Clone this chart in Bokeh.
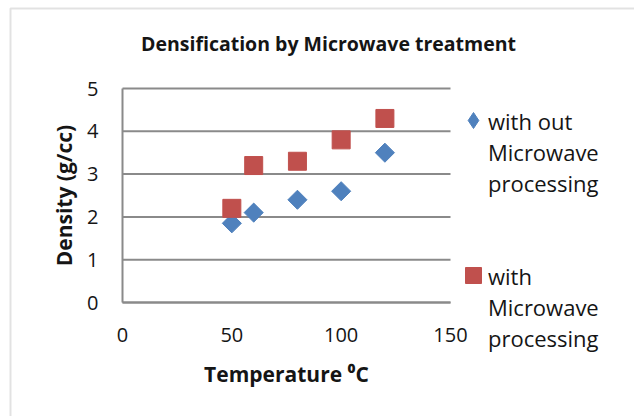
from math import pi, nan

from bokeh.plotting import figure
from bokeh.models import (Range1d, FixedTicker, Legend, LegendItem, Label,
                          BoxAnnotation)
from bokeh.embed import file_html
from bokeh.resources import INLINE

# Density measurements at each sintering temperature
temps = [50, 60, 80, 100, 120]
density_without_mw = [1.85, 2.1, 2.4, 2.6, 3.5]
density_with_mw = [2.2, 3.2, 3.3, 3.8, 4.3]

x_ticks = [0, 50, 100, 150]
y_ticks = [0, 1, 2, 3, 4, 5]

title_text = "Densification by Microwave treatment"
x_title = "Temperature \u2070C"
y_title = "Density (g/cc)"

# legend text, one line per entry (blank lines separate the two series)
legend_lines = ["with out", "Microwave", "processing", " ", " ",
                "with", "Microwave", "processing"]

FONT = "Open Sans"
BLUE = "#4f81bd"
RED = "#c0504d"
GRID = "#8a8a8a"
EDGE = "#a0a0a0"
INK = "#151515"

W, H = 634, 416
# plot area: x 0..150 spans px 122..450, y 0..5 spans px 302..88
PX_X = (450 - 122) / 150
PX_Y = (302 - 88) / 5

p = figure(width=W, height=H, output_backend="svg", toolbar_location=None,
           x_range=Range1d(-122 / PX_X, (W - 122) / PX_X),
           y_range=Range1d(-(H - 302) / PX_Y, 5 + 88 / PX_Y),
           min_border=0, min_border_left=0, min_border_right=0,
           min_border_top=0, min_border_bottom=0,
           background_fill_color="white", border_fill_color="white")
p.outline_line_color = None
p.grid.visible = False

# chart-area border (left and top edges)
p.add_layout(BoxAnnotation(left=10, right=W + 50, bottom=-50, top=H - 8,
                           left_units="screen", right_units="screen",
                           top_units="screen", bottom_units="screen",
                           fill_color=None, line_color=EDGE, line_width=2))

p.add_layout(Label(x=328, y=H - 43, x_units="screen", y_units="screen",
                   text=title_text, text_align="center", text_baseline="middle",
                   text_font=FONT, text_font_size="19.5px", text_font_style="bold",
                   text_color=INK))

for ax in (p.xaxis, p.yaxis):
    ax.fixed_location = 0
    ax.major_tick_line_color = None
    ax.minor_tick_line_color = None
    ax.major_tick_out = 0
    ax.major_tick_in = 0
    ax.minor_tick_out = 0
    ax.minor_tick_in = 0
    ax.axis_line_color = GRID
    ax.axis_line_width = 2
    ax.major_label_text_font = FONT
    ax.major_label_text_font_size = "20px"
    ax.major_label_text_color = INK
    ax.axis_label_text_font = FONT
    ax.axis_label_text_font_size = "21px"
    ax.axis_label_text_font_style = "bold"
    ax.axis_label_text_color = INK

p.xaxis.ticker = FixedTicker(ticks=x_ticks)
p.yaxis.ticker = FixedTicker(ticks=y_ticks)
p.xaxis.bounds = (x_ticks[0], x_ticks[-1])
p.yaxis.bounds = (y_ticks[0], y_ticks[-1])
p.xaxis.axis_label = x_title
p.yaxis.axis_label = y_title
p.xaxis.major_label_standoff = 25
p.yaxis.major_label_standoff = 24
p.xaxis.axis_label_standoff = 15
p.yaxis.axis_label_standoff = 6

# horizontal gridlines across the plot area
p.segment(x0=x_ticks[0], x1=x_ticks[-1], y0=y_ticks, y1=y_ticks,
          line_color=GRID, line_width=2)

r_without = p.scatter(temps, density_without_mw, marker="square", angle=pi / 4,
                      size=13.5, fill_color=BLUE, line_color=BLUE)
r_with = p.scatter(temps, density_with_mw, marker="square", size=18,
                   fill_color=RED, line_color=RED)

# key shown for the without-microwave series
key_without = p.scatter(x=[nan], y=[nan], marker="diamond",
                        fill_color=BLUE, line_color=BLUE)
# carries the legend text lines without a key
no_key = p.scatter(x=[nan], y=[nan], fill_color=None, line_color=None)

common = dict(label_text_font=FONT, label_text_font_size="22px",
              label_text_color=INK, label_text_line_height=1.0, label_height=20,
              padding=0, margin=0, border_line_color=None,
              background_fill_alpha=0, orientation="vertical")

# series keys
key_legend = Legend(items=[LegendItem(label=" ", renderers=[key_without]),
                           LegendItem(label=" ", renderers=[r_with])],
                    location=(453, 121), glyph_width=40, glyph_height=40,
                    label_standoff=0, spacing=115, **common)
# legend wording beside the keys
text_legend = Legend(items=[LegendItem(label=t, renderers=[no_key]) for t in legend_lines],
                     location=(487, 63), glyph_width=1, glyph_height=31,
                     label_standoff=0, spacing=0, **common)
p.add_layout(key_legend, "center")
p.add_layout(text_legend, "center")

open("out.html", "w").write(file_html(p, INLINE))
